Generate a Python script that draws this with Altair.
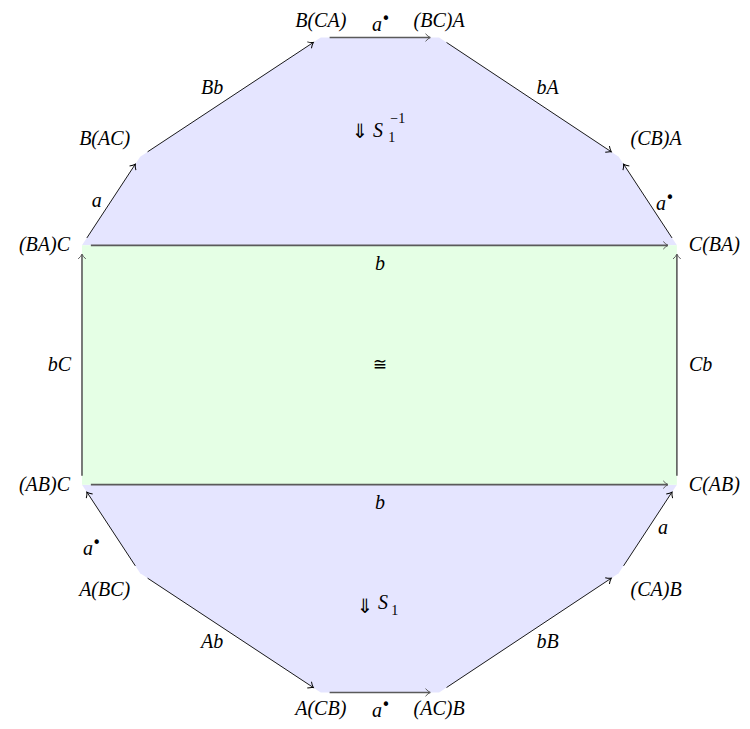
import math
import altair as alt
import pandas as pd

# ---- diagram data -------------------------------------------------------
node_names = ["(BA)C", "B(AC)", "B(CA)", "(BC)A", "(CB)A", "C(BA)",
              "C(AB)", "(CA)B", "(AC)B", "A(CB)", "A(BC)", "(AB)C"]
node_x = [78, 137, 320, 440, 622, 681, 681, 622, 440, 320, 137, 78]
node_y = [243, 153, 32, 32, 153, 243, 486, 576, 697, 697, 576, 486]
label_x = [40, 101, 320, 440, 660, 719, 719, 660, 440, 320, 101, 40]
label_y = [243, 135, 15, 15, 135, 243, 486, 593, 714, 714, 593, 486]

edge_src = ["(BA)C", "B(AC)", "B(CA)", "(BC)A", "C(BA)", "(BA)C", "(AB)C",
            "C(AB)", "(AB)C", "A(BC)", "A(BC)", "A(CB)", "(AC)B", "(CA)B"]
edge_dst = ["B(AC)", "B(CA)", "(BC)A", "(CB)A", "(CB)A", "C(BA)", "(BA)C",
            "C(BA)", "C(AB)", "(AB)C", "A(CB)", "(AC)B", "(CA)B", "C(AB)"]
edge_lbl = ["a", "Bb", "a•", "bA", "a•", "b", "bC",
            "Cb", "b", "a•", "Ab", "a•", "bB", "a"]
edge_lx = [93, 210, 380, 550, 668, 380, 55, 705, 380, 87, 210, 380, 550, 667]
edge_ly = [198, 83, 16, 83, 198, 262, 365, 365, 505, 548, 646, 713, 646, 530]

# 2-cell labels: text, position, font kind, size
cell_text = ["≅", "⇓", "S", "−1", "1", "⇓", "S", "1"]
cell_x = [380, 360, 378, 398, 392, 365, 383, 395]
cell_y = [365, 128, 127, 115, 134, 610, 606, 614]
cell_kind = ["sym", "sym", "it", "up", "up", "sym", "it", "up"]
cell_size = [17, 20, 20, 14, 14, 20, 20, 14]

upper_poly = ["(BA)C", "B(AC)", "B(CA)", "(BC)A", "(CB)A", "C(BA)"]
lower_poly = ["(AB)C", "A(BC)", "A(CB)", "(AC)B", "(CA)B", "C(AB)"]

LAV = "#e5e5ff"
GRN = "#e5ffe5"
SERIF = "Liberation Serif"

# ---- derived tables ------------------------------------------------------
pos = {n: (x, y) for n, x, y in zip(node_names, node_x, node_y)}

base_top = pos["(BA)C"][1]
base_bot = pos["(AB)C"][1]
upper = pd.DataFrame({"x": [pos[n][0] for n in upper_poly],
                      "y": [pos[n][1] for n in upper_poly],
                      "y2": base_top})
lower = pd.DataFrame({"x": [pos[n][0] for n in lower_poly],
                      "y": [pos[n][1] for n in lower_poly],
                      "y2": base_bot})
rect = pd.DataFrame({"x": [pos["(BA)C"][0]], "x2": [pos["C(BA)"][0]],
                     "y": [base_top], "y2": [base_bot]})

GAP = 9
rows = []
heads = []
for s, d in zip(edge_src, edge_dst):
    x1, y1 = pos[s]
    x2, y2 = pos[d]
    L = math.hypot(x2 - x1, y2 - y1)
    ux, uy = (x2 - x1) / L, (y2 - y1) / L
    straight = (x1 == x2) or (y1 == y2)
    col = "#5a5a5a" if straight else "#000000"
    sw = 1.6 if straight else 0.9
    sx, sy = x1 + ux * GAP, y1 + uy * GAP
    ex, ey = x2 - ux * GAP, y2 - uy * GAP
    rows.append({"x": sx, "y": sy, "x2": ex, "y2": ey, "c": col, "w": sw})
    ang = math.degrees(math.atan2(uy, ux)) % 360
    heads.append({"x": ex, "y": ey, "angle": ang, "c": col})
edges = pd.DataFrame(rows)
heads = pd.DataFrame(heads)

nodes_lbl = pd.DataFrame({"t": node_names, "x": label_x, "y": label_y})

it_rows, dot_rows = [], []
for t, x, y in zip(edge_lbl, edge_lx, edge_ly):
    if t.endswith("•"):
        it_rows.append({"t": t[:-1], "x": x - 3, "y": y + 3})
        dot_rows.append({"t": "•", "x": x + 6, "y": y - 3})
    else:
        it_rows.append({"t": t, "x": x, "y": y})
edge_it = pd.DataFrame(it_rows)
edge_dot = pd.DataFrame(dot_rows)

cells = pd.DataFrame({"t": cell_text, "x": cell_x, "y": cell_y,
                      "k": cell_kind, "s": cell_size})

# ---- chart ---------------------------------------------------------------
W, H = 734, 713
XD = [3, 747]
YD = [2, 726]
X = lambda f="x": alt.X(f"{f}:Q", scale=alt.Scale(domain=XD, nice=False, zero=False), axis=None)
Y = lambda f="y": alt.Y(f"{f}:Q", scale=alt.Scale(domain=YD, nice=False, zero=False, reverse=True), axis=None)

l_upper = alt.Chart(upper).mark_area(color=LAV, opacity=1).encode(
    x=X(), y=Y(), y2="y2:Q")
l_lower = alt.Chart(lower).mark_area(color=LAV, opacity=1).encode(
    x=X(), y=Y(), y2="y2:Q")
l_rect = alt.Chart(rect).mark_rect(color=GRN, opacity=1).encode(
    x=X(), x2="x2:Q", y=Y(), y2="y2:Q")

l_edges = alt.Chart(edges).mark_rule().encode(
    x=X(), y=Y(), x2="x2:Q", y2="y2:Q",
    color=alt.Color("c:N", scale=None),
    strokeWidth=alt.StrokeWidth("w:Q", scale=None))

l_heads = alt.Chart(heads).mark_point(
    shape="M-1,-0.8 Q-0.45,-0.2 0,0 Q-0.45,0.2 -1,0.8", filled=False,
    size=90, strokeWidth=1, opacity=1).encode(
    x=X(), y=Y(), angle=alt.Angle("angle:Q", scale=None),
    color=alt.Color("c:N", scale=None))

base_txt = dict(align="center", baseline="middle", color="#000000", fill="#000000")


def text_layer(df, font, size, italic=False):
    kw = dict(base_txt)
    kw["font"] = font
    kw["fontSize"] = size
    if italic:
        kw["fontStyle"] = "italic"
    return alt.Chart(df).mark_text(**kw).encode(x=X(), y=Y(), text="t:N")


layers = [l_upper, l_lower, l_rect, l_edges, l_heads,
          text_layer(nodes_lbl, SERIF, 20, True),
          text_layer(edge_it, SERIF, 20, True),
          text_layer(edge_dot, "DejaVu Sans", 15)]

fonts = {"it": (SERIF, True), "up": (SERIF, False), "sym": ("DejaVu Sans", False)}
for (k, s), grp in cells.groupby(["k", "s"]):
    f, it = fonts[k]
    layers.append(text_layer(grp[["t", "x", "y"]].reset_index(drop=True), f, int(s), it))

chart = alt.layer(*layers).properties(
    width=W, height=H, padding=0, autosize=alt.AutoSizeParams(type="none"),
    background="white"
).configure_view(stroke=None)

chart.save("out.html", embed_options={"renderer": "svg", "actions": False})
